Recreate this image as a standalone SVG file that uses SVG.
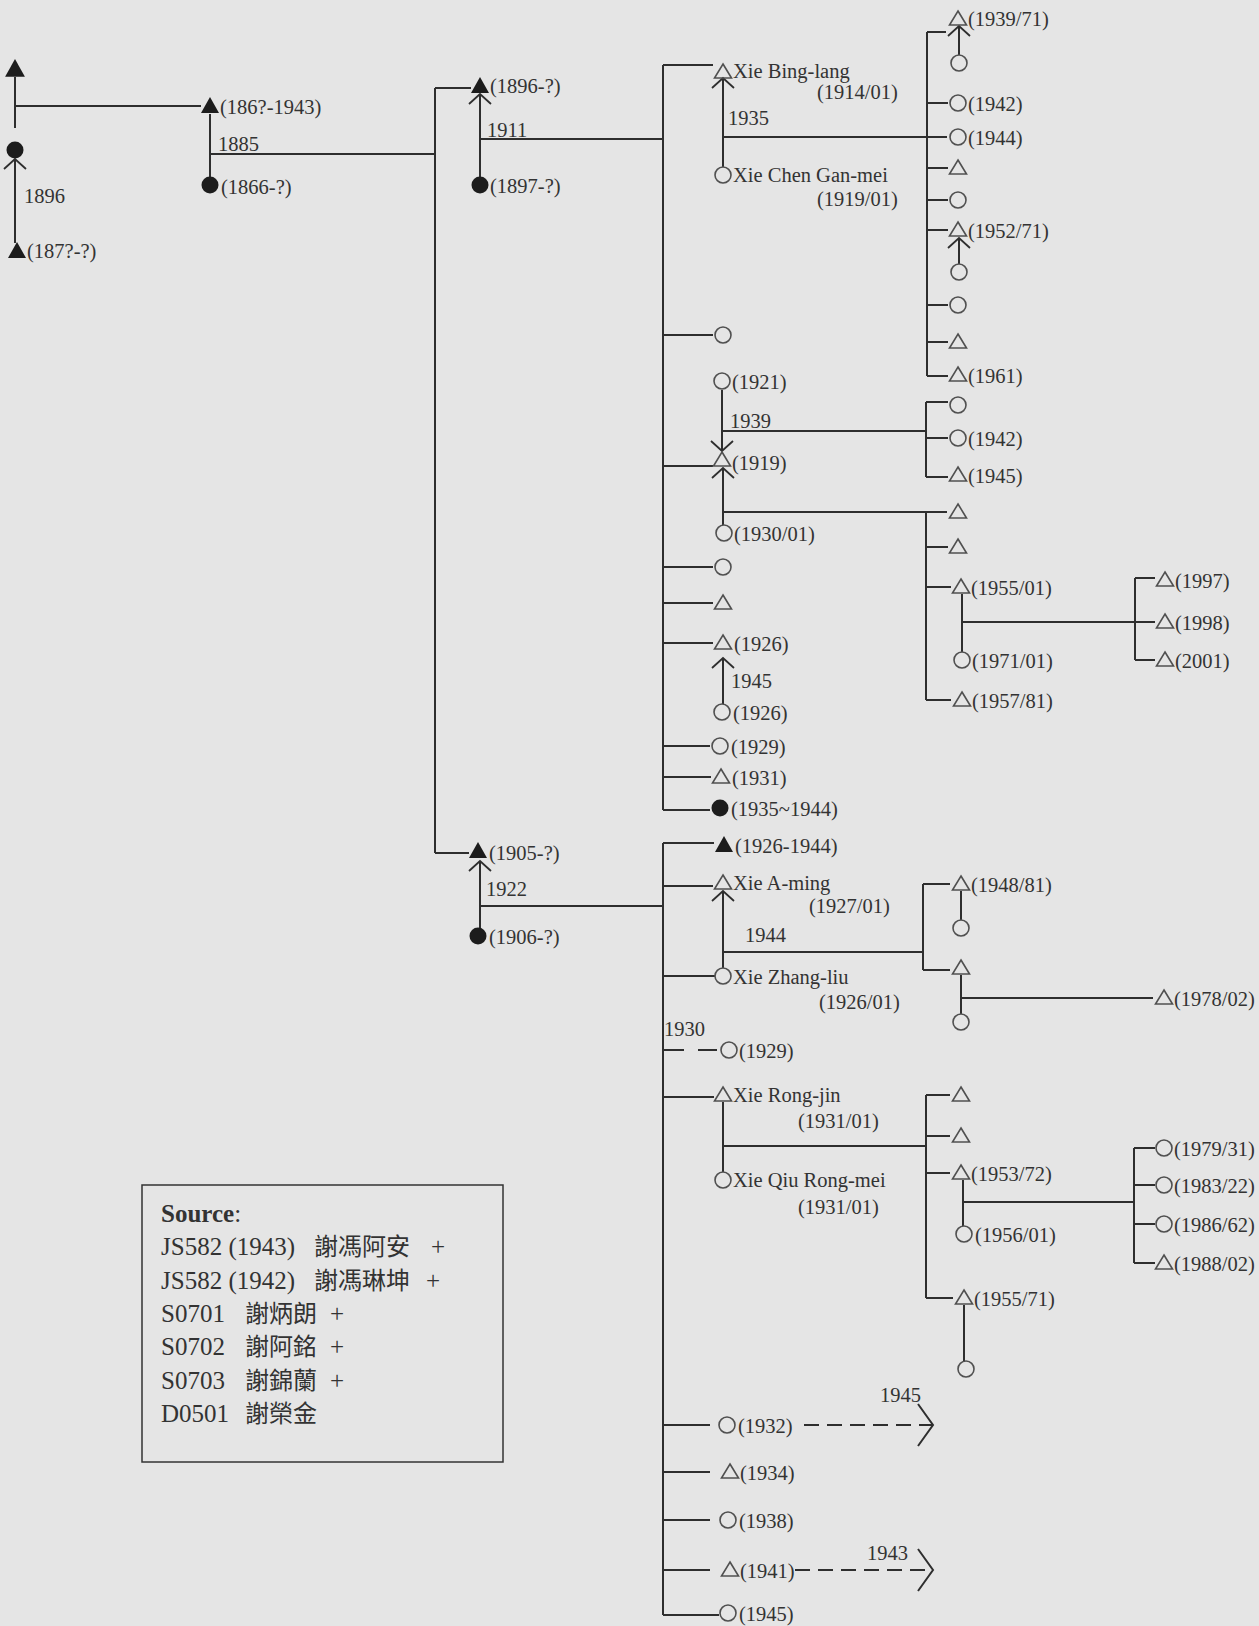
<svg xmlns="http://www.w3.org/2000/svg" xmlns:xlink="http://www.w3.org/1999/xlink" width="1259" height="1626" viewBox="0 0 1259 1626">
<style>
.ln{stroke:#2e2e2e;stroke-width:2;fill:none}
.da{stroke:#2e2e2e;stroke-width:2;fill:none;stroke-dasharray:15 8}
.o{fill:none;stroke:#505050;stroke-width:1.6}
.f{fill:#1c1c1c;stroke:none}
.t{font-family:"Liberation Serif","Times New Roman",serif;font-size:20.5px;fill:#333}
.s{font-family:"Liberation Serif","Times New Roman",serif;font-size:25px;fill:#333}
.c{font-family:"Noto Sans CJK TC","Noto Sans CJK SC",sans-serif;font-size:24px;fill:#333}
</style>
<defs>
<path id="tri" d="M0,-8 L8.5,6 L-8.5,6 Z"/>
<path id="ftri" d="M0,-9 L9,7 L-9,7 Z"/>
<circle id="cir" r="8"/>
<circle id="fcir" r="8.5"/>
<marker id="ch" markerUnits="userSpaceOnUse" markerWidth="26" markerHeight="26" refX="12" refY="12" orient="auto" overflow="visible">
<path d="M2,1 L12,12 L2,23" fill="none" stroke="#2e2e2e" stroke-width="1.8"/>
</marker>
<marker id="bch" markerUnits="userSpaceOnUse" markerWidth="50" markerHeight="50" refX="25" refY="25" orient="auto" overflow="visible">
<path d="M10,4 L25,25 L10,46" fill="none" stroke="#2e2e2e" stroke-width="2"/>
</marker>
</defs>
<rect width="1259" height="1626" fill="#e5e5e5"/>

<g id="connectors">
<line class="ln" x1="15" y1="77" x2="15" y2="128"/>
<line class="ln" x1="15" y1="106" x2="201" y2="106"/>
<line class="ln" x1="15" y1="243" x2="15" y2="159" marker-end="url(#ch)"/>
<line class="ln" x1="210" y1="114" x2="210" y2="177"/>
<line class="ln" x1="210" y1="154" x2="435" y2="154"/>
<line class="ln" x1="435" y1="88" x2="435" y2="853"/>
<line class="ln" x1="435" y1="88" x2="471" y2="88"/>
<line class="ln" x1="435" y1="853" x2="469" y2="853"/>
<line class="ln" x1="480" y1="177" x2="480" y2="94" marker-end="url(#ch)"/>
<line class="ln" x1="480" y1="139" x2="663" y2="139"/>
<line class="ln" x1="480" y1="928" x2="480" y2="861" marker-end="url(#ch)"/>
<line class="ln" x1="480" y1="906" x2="663" y2="906"/>
<line class="ln" x1="663" y1="65" x2="663" y2="810"/>
<line class="ln" x1="663" y1="843" x2="663" y2="1615"/>
<line class="ln" x1="663" y1="65" x2="713" y2="65"/>
<line class="ln" x1="663" y1="335" x2="713" y2="335"/>
<line class="ln" x1="663" y1="466" x2="713" y2="466"/>
<line class="ln" x1="663" y1="567" x2="713" y2="567"/>
<line class="ln" x1="663" y1="603" x2="713" y2="603"/>
<line class="ln" x1="663" y1="643" x2="713" y2="643"/>
<line class="ln" x1="663" y1="746" x2="710" y2="746"/>
<line class="ln" x1="663" y1="777" x2="711" y2="777"/>
<line class="ln" x1="663" y1="810" x2="710" y2="810"/>
<line class="ln" x1="723" y1="167" x2="723" y2="78" marker-end="url(#ch)"/>
<line class="ln" x1="723" y1="137" x2="947" y2="137"/>
<line class="ln" x1="927" y1="32" x2="927" y2="376"/>
<line class="ln" x1="927" y1="32" x2="946" y2="32"/>
<line class="ln" x1="927" y1="103" x2="948" y2="103"/>
<line class="ln" x1="927" y1="168" x2="948" y2="168"/>
<line class="ln" x1="927" y1="200" x2="948" y2="200"/>
<line class="ln" x1="927" y1="230" x2="948" y2="230"/>
<line class="ln" x1="927" y1="305" x2="948" y2="305"/>
<line class="ln" x1="927" y1="342" x2="948" y2="342"/>
<line class="ln" x1="927" y1="376" x2="948" y2="376"/>
<line class="ln" x1="959" y1="55" x2="959" y2="26" marker-end="url(#ch)"/>
<line class="ln" x1="959" y1="264" x2="959" y2="238" marker-end="url(#ch)"/>
<line class="ln" x1="722" y1="390" x2="722" y2="451" marker-end="url(#ch)"/>
<line class="ln" x1="722" y1="431" x2="926" y2="431"/>
<line class="ln" x1="926" y1="402" x2="926" y2="477"/>
<line class="ln" x1="926" y1="402" x2="948" y2="402"/>
<line class="ln" x1="926" y1="438" x2="948" y2="438"/>
<line class="ln" x1="926" y1="477" x2="948" y2="477"/>
<line class="ln" x1="723" y1="525" x2="723" y2="468" marker-end="url(#ch)"/>
<line class="ln" x1="723" y1="512" x2="947" y2="512"/>
<line class="ln" x1="926" y1="512" x2="926" y2="700"/>
<line class="ln" x1="926" y1="547" x2="948" y2="547"/>
<line class="ln" x1="926" y1="587" x2="951" y2="587"/>
<line class="ln" x1="926" y1="700" x2="951" y2="700"/>
<line class="ln" x1="962" y1="594" x2="962" y2="652"/>
<line class="ln" x1="962" y1="622" x2="1135" y2="622"/>
<line class="ln" x1="1135" y1="578" x2="1135" y2="660"/>
<line class="ln" x1="1135" y1="578" x2="1155" y2="578"/>
<line class="ln" x1="1135" y1="622" x2="1155" y2="622"/>
<line class="ln" x1="1135" y1="660" x2="1155" y2="660"/>
<line class="ln" x1="723" y1="704" x2="723" y2="658" marker-end="url(#ch)"/>
<line class="ln" x1="663" y1="843" x2="714" y2="843"/>
<line class="ln" x1="663" y1="886" x2="713" y2="886"/>
<line class="ln" x1="663" y1="976" x2="715" y2="976"/>
<line class="ln" x1="664" y1="1050" x2="684" y2="1050"/>
<line class="ln" x1="698" y1="1050" x2="717" y2="1050"/>
<line class="ln" x1="663" y1="1097" x2="714" y2="1097"/>
<line class="ln" x1="663" y1="1425" x2="710" y2="1425"/>
<line class="ln" x1="663" y1="1472" x2="710" y2="1472"/>
<line class="ln" x1="663" y1="1520" x2="710" y2="1520"/>
<line class="ln" x1="663" y1="1570" x2="710" y2="1570"/>
<line class="ln" x1="663" y1="1615" x2="719" y2="1615"/>
<line class="ln" x1="723" y1="968" x2="723" y2="891" marker-end="url(#ch)"/>
<line class="ln" x1="723" y1="952" x2="923" y2="952"/>
<line class="ln" x1="923" y1="884" x2="923" y2="970"/>
<line class="ln" x1="923" y1="884" x2="950" y2="884"/>
<line class="ln" x1="923" y1="970" x2="950" y2="970"/>
<line class="ln" x1="961" y1="891" x2="961" y2="920"/>
<line class="ln" x1="961" y1="975" x2="961" y2="1014"/>
<line class="ln" x1="961" y1="998" x2="1153" y2="998"/>
<line class="ln" x1="723" y1="1102" x2="723" y2="1172"/>
<line class="ln" x1="723" y1="1146" x2="926" y2="1146"/>
<line class="ln" x1="926" y1="1095" x2="926" y2="1298"/>
<line class="ln" x1="926" y1="1095" x2="950" y2="1095"/>
<line class="ln" x1="926" y1="1136" x2="950" y2="1136"/>
<line class="ln" x1="926" y1="1173" x2="950" y2="1173"/>
<line class="ln" x1="926" y1="1298" x2="953" y2="1298"/>
<line class="ln" x1="963" y1="1180" x2="963" y2="1226"/>
<line class="ln" x1="963" y1="1202" x2="1134" y2="1202"/>
<line class="ln" x1="1134" y1="1148" x2="1134" y2="1263"/>
<line class="ln" x1="1134" y1="1148" x2="1155" y2="1148"/>
<line class="ln" x1="1134" y1="1185" x2="1155" y2="1185"/>
<line class="ln" x1="1134" y1="1224" x2="1155" y2="1224"/>
<line class="ln" x1="1134" y1="1263" x2="1155" y2="1263"/>
<line class="ln" x1="964" y1="1305" x2="964" y2="1361"/>
<line class="da" x1="804" y1="1425" x2="933" y2="1425" marker-end="url(#bch)"/>
<line class="da" x1="795" y1="1570" x2="933" y2="1570" marker-end="url(#bch)"/>
<text class="t" x="24" y="203">1896</text>
<text class="t" x="218" y="151">1885</text>
<text class="t" x="487" y="137">1911</text>
<text class="t" x="486" y="896">1922</text>
<text class="t" x="728" y="125">1935</text>
<text class="t" x="730" y="428">1939</text>
<text class="t" x="731" y="688">1945</text>
<text class="t" x="745" y="942">1944</text>
<text class="t" x="664" y="1036">1930</text>
<text class="t" x="880" y="1402">1945</text>
<text class="t" x="867" y="1560">1943</text>
</g>

<g id="n-g1-male"><use href="#ftri" x="15" y="69" class="f" transform="translate(15 69) scale(1.1) translate(-15 -69)"/></g>
<g id="n-g1-female"><use href="#fcir" x="15" y="150" class="f"/></g>
<g id="n-187x"><use href="#ftri" x="17" y="251" class="f"/><text class="t" x="27" y="258">(187?-?)</text></g>
<g id="n-186x"><use href="#ftri" x="210" y="106" class="f"/><text class="t" x="220" y="114">(186?-1943)</text></g>
<g id="n-1866"><use href="#fcir" x="210" y="185" class="f"/><text class="t" x="221" y="194">(1866-?)</text></g>
<g id="n-1896"><use href="#ftri" x="480" y="86" class="f"/><text class="t" x="490" y="93">(1896-?)</text></g>
<g id="n-1897"><use href="#fcir" x="480" y="185" class="f"/><text class="t" x="490" y="193">(1897-?)</text></g>
<g id="n-1905"><use href="#ftri" x="478" y="851" class="f"/><text class="t" x="489" y="860">(1905-?)</text></g>
<g id="n-1906"><use href="#fcir" x="478" y="936" class="f"/><text class="t" x="489" y="944">(1906-?)</text></g>

<g id="n-bing-lang"><use href="#tri" x="723" y="72" class="o"/><text class="t" x="733" y="78">Xie Bing-lang</text><text class="t" x="817" y="99">(1914/01)</text></g>
<g id="n-gan-mei"><use href="#cir" x="723" y="175" class="o"/><text class="t" x="733" y="182">Xie Chen Gan-mei</text><text class="t" x="817" y="206">(1919/01)</text></g>
<g id="n-u3"><use href="#cir" x="723" y="335" class="o"/></g>
<g id="n-1921"><use href="#cir" x="722" y="381" class="o"/><text class="t" x="732" y="389">(1921)</text></g>
<g id="n-1919"><use href="#tri" x="722" y="460" class="o"/><text class="t" x="732" y="470">(1919)</text></g>
<g id="n-1930-01"><use href="#cir" x="724" y="533" class="o"/><text class="t" x="734" y="541">(1930/01)</text></g>
<g id="n-u7"><use href="#cir" x="723" y="567" class="o"/></g>
<g id="n-u8"><use href="#tri" x="723" y="603" class="o"/></g>
<g id="n-1926m"><use href="#tri" x="723" y="643" class="o"/><text class="t" x="734" y="651">(1926)</text></g>
<g id="n-1926f"><use href="#cir" x="722" y="712" class="o"/><text class="t" x="733" y="720">(1926)</text></g>
<g id="n-1929a"><use href="#cir" x="720" y="746" class="o"/><text class="t" x="731" y="754">(1929)</text></g>
<g id="n-1931"><use href="#tri" x="721" y="777" class="o"/><text class="t" x="732" y="785">(1931)</text></g>
<g id="n-1935-1944"><use href="#fcir" x="720" y="808" class="f"/><text class="t" x="731" y="816">(1935~1944)</text></g>

<g id="n-1939-71"><use href="#tri" x="958" y="19" class="o"/><text class="t" x="968" y="26">(1939/71)</text></g>
<g id="n-r2"><use href="#cir" x="959" y="63" class="o"/></g>
<g id="n-1942a"><use href="#cir" x="958" y="103" class="o"/><text class="t" x="968" y="111">(1942)</text></g>
<g id="n-1944a"><use href="#cir" x="958" y="137" class="o"/><text class="t" x="968" y="145">(1944)</text></g>
<g id="n-r5"><use href="#tri" x="958" y="168" class="o"/></g>
<g id="n-r6"><use href="#cir" x="958" y="200" class="o"/></g>
<g id="n-1952-71"><use href="#tri" x="958" y="230" class="o"/><text class="t" x="968" y="238">(1952/71)</text></g>
<g id="n-r8"><use href="#cir" x="959" y="272" class="o"/></g>
<g id="n-r9"><use href="#cir" x="958" y="305" class="o"/></g>
<g id="n-r10"><use href="#tri" x="958" y="342" class="o"/></g>
<g id="n-1961"><use href="#tri" x="958" y="375" class="o"/><text class="t" x="968" y="383">(1961)</text></g>

<g id="n-s1"><use href="#cir" x="958" y="405" class="o"/></g>
<g id="n-1942b"><use href="#cir" x="958" y="438" class="o"/><text class="t" x="968" y="446">(1942)</text></g>
<g id="n-1945a"><use href="#tri" x="958" y="475" class="o"/><text class="t" x="968" y="483">(1945)</text></g>

<g id="n-t1"><use href="#tri" x="958" y="512" class="o"/></g>
<g id="n-t2"><use href="#tri" x="958" y="547" class="o"/></g>
<g id="n-1955-01"><use href="#tri" x="961" y="587" class="o"/><text class="t" x="971" y="595">(1955/01)</text></g>
<g id="n-1971-01"><use href="#cir" x="962" y="660" class="o"/><text class="t" x="972" y="668">(1971/01)</text></g>
<g id="n-1957-81"><use href="#tri" x="962" y="700" class="o"/><text class="t" x="972" y="708">(1957/81)</text></g>
<g id="n-1997"><use href="#tri" x="1165" y="580" class="o"/><text class="t" x="1175" y="588">(1997)</text></g>
<g id="n-1998"><use href="#tri" x="1165" y="622" class="o"/><text class="t" x="1175" y="630">(1998)</text></g>
<g id="n-2001"><use href="#tri" x="1165" y="660" class="o"/><text class="t" x="1175" y="668">(2001)</text></g>

<g id="n-1926-1944"><use href="#ftri" x="724" y="845" class="f"/><text class="t" x="735" y="853">(1926-1944)</text></g>
<g id="n-a-ming"><use href="#tri" x="723" y="883" class="o"/><text class="t" x="733" y="890">Xie A-ming</text><text class="t" x="809" y="913">(1927/01)</text></g>
<g id="n-zhang-liu"><use href="#cir" x="723" y="976" class="o"/><text class="t" x="733" y="984">Xie Zhang-liu</text><text class="t" x="819" y="1009">(1926/01)</text></g>
<g id="n-1929b"><use href="#cir" x="729" y="1050" class="o"/><text class="t" x="739" y="1058">(1929)</text></g>
<g id="n-rong-jin"><use href="#tri" x="723" y="1095" class="o"/><text class="t" x="733" y="1102">Xie Rong-jin</text><text class="t" x="798" y="1128">(1931/01)</text></g>
<g id="n-rong-mei"><use href="#cir" x="723" y="1180" class="o"/><text class="t" x="733" y="1187">Xie Qiu Rong-mei</text><text class="t" x="798" y="1214">(1931/01)</text></g>
<g id="n-1932"><use href="#cir" x="727" y="1425" class="o"/><text class="t" x="738" y="1433">(1932)</text></g>
<g id="n-1934"><use href="#tri" x="730" y="1472" class="o"/><text class="t" x="740" y="1480">(1934)</text></g>
<g id="n-1938"><use href="#cir" x="728" y="1520" class="o"/><text class="t" x="739" y="1528">(1938)</text></g>
<g id="n-1941"><use href="#tri" x="730" y="1570" class="o"/><text class="t" x="740" y="1578">(1941)</text></g>
<g id="n-1945b"><use href="#cir" x="728" y="1613" class="o"/><text class="t" x="739" y="1621">(1945)</text></g>

<g id="n-1948-81"><use href="#tri" x="961" y="884" class="o"/><text class="t" x="971" y="892">(1948/81)</text></g>
<g id="n-m2"><use href="#cir" x="961" y="928" class="o"/></g>
<g id="n-m3"><use href="#tri" x="961" y="968" class="o"/></g>
<g id="n-m4"><use href="#cir" x="961" y="1022" class="o"/></g>
<g id="n-1978-02"><use href="#tri" x="1164" y="998" class="o"/><text class="t" x="1174" y="1006">(1978/02)</text></g>

<g id="n-k1"><use href="#tri" x="961" y="1095" class="o"/></g>
<g id="n-k2"><use href="#tri" x="961" y="1136" class="o"/></g>
<g id="n-1953-72"><use href="#tri" x="961" y="1173" class="o"/><text class="t" x="971" y="1181">(1953/72)</text></g>
<g id="n-1956-01"><use href="#cir" x="964" y="1234" class="o"/><text class="t" x="975" y="1242">(1956/01)</text></g>
<g id="n-1955-71"><use href="#tri" x="964" y="1298" class="o"/><text class="t" x="974" y="1306">(1955/71)</text></g>
<g id="n-k6"><use href="#cir" x="966" y="1369" class="o"/></g>
<g id="n-1979-31"><use href="#cir" x="1164" y="1148" class="o"/><text class="t" x="1174" y="1156">(1979/31)</text></g>
<g id="n-1983-22"><use href="#cir" x="1164" y="1185" class="o"/><text class="t" x="1174" y="1193">(1983/22)</text></g>
<g id="n-1986-62"><use href="#cir" x="1164" y="1224" class="o"/><text class="t" x="1174" y="1232">(1986/62)</text></g>
<g id="n-1988-02"><use href="#tri" x="1164" y="1263" class="o"/><text class="t" x="1174" y="1271">(1988/02)</text></g>

<g id="source">
<rect x="142" y="1185" width="361" height="277" fill="none" stroke="#333" stroke-width="1.5"/>
<text class="s" x="161" y="1222"><tspan font-weight="bold">Source</tspan>:</text>
<text class="s" x="161" y="1255">JS582 (1943)</text><text class="c" x="314" y="1255">謝馮阿安</text><text class="s" x="431" y="1255">+</text>
<text class="s" x="161" y="1289">JS582 (1942)</text><text class="c" x="314" y="1289">謝馮琳坤</text><text class="s" x="426" y="1289">+</text>
<text class="s" x="161" y="1322">S0701</text><text class="c" x="245" y="1322">謝炳朗</text><text class="s" x="330" y="1322">+</text>
<text class="s" x="161" y="1355">S0702</text><text class="c" x="245" y="1355">謝阿銘</text><text class="s" x="330" y="1355">+</text>
<text class="s" x="161" y="1389">S0703</text><text class="c" x="245" y="1389">謝錦蘭</text><text class="s" x="330" y="1389">+</text>
<text class="s" x="161" y="1422">D0501</text><text class="c" x="245" y="1422">謝榮金</text>
</g>
</svg>
